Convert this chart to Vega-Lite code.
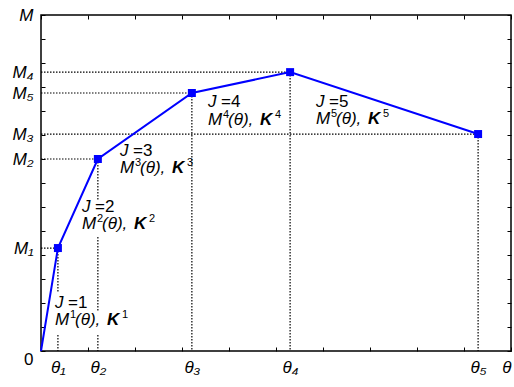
{
  "$schema": "https://vega.github.io/schema/vega-lite/v6.json",
  "width": 470,
  "height": 336,
  "autosize": {"type": "none"},
  "padding": {"left": 41, "top": 15, "right": 3, "bottom": 36},
  "config": {
    "view": {"stroke": "black", "strokeWidth": 1.5},
    "font": "Liberation Sans"
  },
  "datasets": {
    "curve": [
      {"t": 0, "m": 0},
      {"t": 0.36, "m": 4.29},
      {"t": 1.21, "m": 8},
      {"t": 3.21, "m": 10.75},
      {"t": 5.3, "m": 11.62},
      {"t": 9.3, "m": 9.04}
    ],
    "hrules": [
      {"y": 4.29, "x": 0, "x2": 0.36},
      {"y": 8, "x": 0, "x2": 1.21},
      {"y": 9.04, "x": 0, "x2": 9.3},
      {"y": 11.62, "x": 0, "x2": 5.3},
      {"y": 10.75, "x": 0, "x2": 3.21}
    ],
    "vrules": [
      {"x": 0.36, "y": 4.29, "y2": 2.46},
      {"x": 0.36, "y": 0.67, "y2": 0},
      {"x": 1.21, "y": 8, "y2": 6.29},
      {"x": 1.21, "y": 4.75, "y2": 1.625},
      {"x": 1.21, "y": 0.67, "y2": 0},
      {"x": 3.21, "y": 10.75, "y2": 0},
      {"x": 5.3, "y": 11.62, "y2": 0},
      {"x": 9.3, "y": 9.04, "y2": 0}
    ],
    "labels": [
      {"kind": "it", "x": 0.2979, "y": 2.0, "txt": "J"},
      {"kind": "rm", "x": 0.5745, "y": 2.0, "txt": "=1"},
      {"kind": "it", "x": 0.2979, "y": 1.2917, "txt": "M"},
      {"kind": "sup", "x": 0.617, "y": 1.5, "txt": "1"},
      {"kind": "it", "x": 0.7234, "y": 1.2917, "txt": "(θ),"},
      {"kind": "bi", "x": 1.4043, "y": 1.2917, "txt": "K"},
      {"kind": "sup", "x": 1.7234, "y": 1.5, "txt": "1"},

      {"kind": "it", "x": 0.8723, "y": 6.0, "txt": "J"},
      {"kind": "rm", "x": 1.1489, "y": 6.0, "txt": "=2"},
      {"kind": "it", "x": 0.8723, "y": 5.2917, "txt": "M"},
      {"kind": "sup", "x": 1.1915, "y": 5.5, "txt": "2"},
      {"kind": "it", "x": 1.2979, "y": 5.2917, "txt": "(θ),"},
      {"kind": "bi", "x": 1.9787, "y": 5.2917, "txt": "K"},
      {"kind": "sup", "x": 2.2979, "y": 5.5, "txt": "2"},

      {"kind": "it", "x": 1.6809, "y": 8.3333, "txt": "J"},
      {"kind": "rm", "x": 1.9574, "y": 8.3333, "txt": "=3"},
      {"kind": "it", "x": 1.6809, "y": 7.625, "txt": "M"},
      {"kind": "sup", "x": 2.0, "y": 7.8333, "txt": "3"},
      {"kind": "it", "x": 2.1064, "y": 7.625, "txt": "(θ),"},
      {"kind": "bi", "x": 2.7872, "y": 7.625, "txt": "K"},
      {"kind": "sup", "x": 3.1064, "y": 7.8333, "txt": "3"},

      {"kind": "it", "x": 3.5532, "y": 10.375, "txt": "J"},
      {"kind": "rm", "x": 3.8298, "y": 10.375, "txt": "=4"},
      {"kind": "it", "x": 3.5532, "y": 9.625, "txt": "M"},
      {"kind": "sup", "x": 3.8723, "y": 9.8333, "txt": "4"},
      {"kind": "it", "x": 3.9787, "y": 9.625, "txt": "(θ),"},
      {"kind": "bi", "x": 4.6596, "y": 9.625, "txt": "K"},
      {"kind": "sup", "x": 4.9787, "y": 9.8333, "txt": "4"},

      {"kind": "it", "x": 5.8511, "y": 10.375, "txt": "J"},
      {"kind": "rm", "x": 6.1277, "y": 10.375, "txt": "=5"},
      {"kind": "it", "x": 5.8511, "y": 9.6667, "txt": "M"},
      {"kind": "sup", "x": 6.1702, "y": 9.875, "txt": "5"},
      {"kind": "it", "x": 6.2766, "y": 9.6667, "txt": "(θ),"},
      {"kind": "bi", "x": 6.9574, "y": 9.6667, "txt": "K"},
      {"kind": "sup", "x": 7.2766, "y": 9.875, "txt": "5"}
    ]
  },
  "resolve": {"axis": {"x": "independent", "y": "independent"}},
  "layer": [
    {
      "data": {"name": "hrules"},
      "mark": {"type": "rule", "color": "black", "strokeWidth": 1.2, "strokeDash": [1.5, 1.5]},
      "encoding": {
        "y": {"field": "y", "type": "quantitative", "scale": {"domain": [0, 14], "nice": false}, "axis": {"orient": "right", "values": [0,1,2,3,4,5,6,7,8,9,10,11,12,13,14], "labels": false, "domain": false, "grid": false, "tickSize": -4, "tickColor": "black", "title": null}},
        "x": {"field": "x", "type": "quantitative", "scale": {"domain": [0, 10], "nice": false}, "axis": {"orient": "top", "values": [0,1,2,3,4,5,6,7,8,9,10], "labels": false, "domain": false, "grid": false, "tickSize": -4, "tickColor": "black", "title": null}},
        "x2": {"field": "x2"}
      }
    },
    {
      "data": {"name": "vrules"},
      "mark": {"type": "rule", "color": "black", "strokeWidth": 1.2, "strokeDash": [1.5, 1.5]},
      "encoding": {
        "x": {"field": "x", "type": "quantitative", "axis": null},
        "y": {"field": "y", "type": "quantitative", "axis": null},
        "y2": {"field": "y2"}
      }
    },
    {
      "data": {"name": "curve"},
      "mark": {"type": "line", "color": "#0000ff", "strokeWidth": 2},
      "encoding": {
        "x": {"field": "t", "type": "quantitative", "axis": {
          "orient": "bottom",
          "values": [0,1,2,3,4,5,6,7,8,9,10,0.36,1.21,3.21,5.3,9.3],
          "labelExpr": "datum.value==0.36?'θ₁':datum.value==1.21?'θ₂':datum.value==3.21?'θ₃':datum.value==5.3?'θ₄':datum.value==9.3?'θ₅':datum.value==10?'θ':''",
          "domain": false, "grid": false, "tickSize": -4, "tickColor": "black",
          "tickOpacity": {"condition": {"test": "datum.value!=floor(datum.value)", "value": 0}, "value": 1},
          "labelFont": "Liberation Sans", "labelFontSize": 17, "labelFontStyle": "italic", "labelColor": "black",
          "labelPadding": 12, "labelOverlap": false, "labelFlush": false, "labelBound": false,
          "labelAlign": {"condition": {"test": "datum.value==10", "value": "right"}, "value": "center"},
          "labelBaseline": "top",
          "title": null
        }},
        "y": {"field": "m", "type": "quantitative", "axis": {
          "orient": "left",
          "values": [0,1,2,3,4,5,6,7,8,9,10,11,12,13,14,4.29,9.04,10.75,11.62],
          "labelExpr": "datum.value==0?'0':datum.value==4.29?'M₁':datum.value==8?'M₂':datum.value==9.04?'M₃':datum.value==11.62?'M₄':datum.value==10.75?'M₅':datum.value==14?'M':''",
          "domain": false, "grid": false, "tickSize": -4, "tickColor": "black",
          "tickOpacity": {"condition": {"test": "datum.value!=floor(datum.value)", "value": 0}, "value": 1},
          "labelFont": "Liberation Sans", "labelFontSize": 17, "labelColor": "black",
          "labelFontStyle": {"condition": {"test": "datum.value==0", "value": "normal"}, "value": "italic"},
          "labelBaseline": {"condition": {"test": "datum.value==0", "value": "top"}, "value": "middle"},
          "labelAlign": "right",
          "labelPadding": 12, "labelOverlap": false, "labelFlush": false, "labelBound": false,
          "title": null
        }}
      }
    },
    {
      "data": {"name": "curve"},
      "transform": [{"filter": "datum.t > 0"}],
      "mark": {"type": "point", "shape": "square", "filled": true, "color": "#0000ff", "size": 64, "opacity": 1},
      "encoding": {
        "x": {"field": "t", "type": "quantitative", "axis": null},
        "y": {"field": "m", "type": "quantitative", "axis": null}
      }
    },
    {
      "data": {"name": "labels"},
      "transform": [{"filter": "datum.kind == 'it'"}],
      "mark": {"type": "text", "align": "left", "baseline": "middle", "fontSize": 17, "fontStyle": "italic", "color": "black"},
      "encoding": {
        "x": {"field": "x", "type": "quantitative", "axis": null},
        "y": {"field": "y", "type": "quantitative", "axis": null},
        "text": {"field": "txt"}
      }
    },
    {
      "data": {"name": "labels"},
      "transform": [{"filter": "datum.kind == 'rm'"}],
      "mark": {"type": "text", "align": "left", "baseline": "middle", "fontSize": 17, "color": "black"},
      "encoding": {
        "x": {"field": "x", "type": "quantitative", "axis": null},
        "y": {"field": "y", "type": "quantitative", "axis": null},
        "text": {"field": "txt"}
      }
    },
    {
      "data": {"name": "labels"},
      "transform": [{"filter": "datum.kind == 'sup'"}],
      "mark": {"type": "text", "align": "left", "baseline": "middle", "fontSize": 11, "color": "black"},
      "encoding": {
        "x": {"field": "x", "type": "quantitative", "axis": null},
        "y": {"field": "y", "type": "quantitative", "axis": null},
        "text": {"field": "txt"}
      }
    },
    {
      "data": {"name": "labels"},
      "transform": [{"filter": "datum.kind == 'bi'"}],
      "mark": {"type": "text", "align": "left", "baseline": "middle", "fontSize": 17, "fontStyle": "italic", "fontWeight": "bold", "color": "black"},
      "encoding": {
        "x": {"field": "x", "type": "quantitative", "axis": null},
        "y": {"field": "y", "type": "quantitative", "axis": null},
        "text": {"field": "txt"}
      }
    }
  ]
}
